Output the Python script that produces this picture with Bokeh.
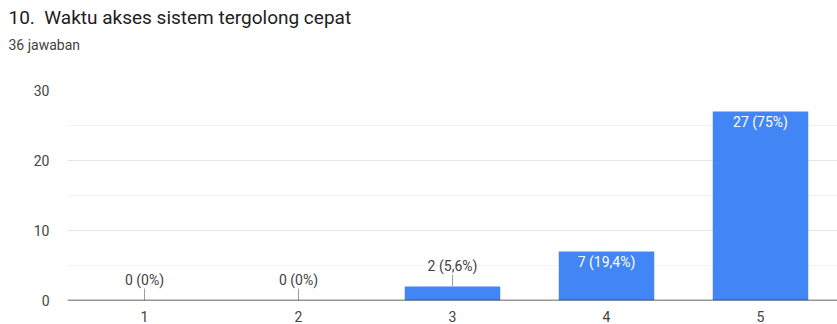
from bokeh.plotting import figure
from bokeh.models import Title, Span, SingleIntervalTicker, ColumnDataSource, FactorRange
from bokeh.core.properties import value
from bokeh.embed import file_html
from bokeh.resources import INLINE

# ---- data ----
categories = ["1", "2", "3", "4", "5"]
counts = [0, 0, 2, 7, 27]
percent_labels = ["0%", "0%", "5,6%", "19,4%", "75%"]
title_text = "10.\u00a0 Waktu akses sistem tergolong cepat"
subtitle_text = "36 jawaban"
y_max = 30

FONT = "Roboto"
BLUE = "#4285f4"

labels = [f"{c} ({p})" for c, p in zip(counts, percent_labels)]
inside_threshold = 5
lead = 1.7

out_x, out_y0, out_y1, out_txt = [], [], [], []
in_x, in_y, in_txt = [], [], []
for cat, c, lab in zip(categories, counts, labels):
    if c >= inside_threshold:
        in_x.append(cat); in_y.append(c); in_txt.append(lab)
    else:
        out_x.append(cat); out_y0.append(c); out_y1.append(c + lead); out_txt.append(lab)

p = figure(
    x_range=FactorRange(factors=categories, range_padding=0),
    y_range=(0, y_max),
    width=837, height=324,
    output_backend="svg", toolbar_location=None,
    min_border_left=67, min_border_right=0, min_border_top=0, min_border_bottom=10,
)
p.outline_line_color = None
p.background_fill_color = "white"
p.border_fill_color = "white"

# spacer between subtitle and plot area (nearest to frame), then subtitle, then title
p.add_layout(Title(text="\u00a0", text_font=FONT, text_font_size="1px",
                   align="left", offset=-59, standoff=32), "above")
p.add_layout(Title(text=subtitle_text, text_font=FONT, text_font_size="14px",
                   text_font_style="normal", text_color="#424242", align="left",
                   vertical_align="bottom", offset=-59, standoff=6), "above")
p.add_layout(Title(text=title_text, text_font=FONT, text_font_size="19px",
                   text_font_style="normal", text_color="#212121", align="left",
                   vertical_align="bottom", offset=-59, standoff=6), "above")

src = ColumnDataSource(dict(x=categories, top=counts))
p.vbar(x="x", top="top", width=0.62, source=src, color=BLUE, line_color=None)

# leader lines and outside labels
p.segment(x0=out_x, y0=out_y0, x1=out_x, y1=out_y1, line_color="#9e9e9e", line_width=1)
p.text(x=out_x, y=out_y1, text=out_txt, text_font=value(FONT), text_font_size="14px",
       text_color="#424242", text_align="center", text_baseline="bottom", y_offset=-1)
# inside labels
p.text(x=in_x, y=in_y, text=in_txt, text_font=value(FONT), text_font_size="14px",
       text_color="white", text_align="center", text_baseline="top", y_offset=2)

# baseline
p.add_layout(Span(location=0, dimension="width", line_color="#333333", line_width=1.5))

# axes
p.yaxis.ticker = SingleIntervalTicker(interval=10, num_minor_ticks=2)
p.yaxis.axis_line_color = None
p.yaxis.major_tick_line_color = None
p.yaxis.minor_tick_line_color = None
p.yaxis.major_label_text_font = FONT
p.yaxis.major_label_text_font_size = "14px"
p.yaxis.major_label_text_color = "#444444"
p.yaxis.major_label_standoff = 12

p.xaxis.axis_line_color = None
p.xaxis.major_tick_line_color = None
p.xaxis.major_label_text_font = FONT
p.xaxis.major_label_text_font_size = "14px"
p.xaxis.major_label_text_color = "#444444"
p.xaxis.major_label_standoff = 4

p.xgrid.grid_line_color = None
p.ygrid.grid_line_color = "#e6e6e6"
p.ygrid.minor_grid_line_color = "#f2f2f2"

open("out.html", "w").write(file_html(p, INLINE))
